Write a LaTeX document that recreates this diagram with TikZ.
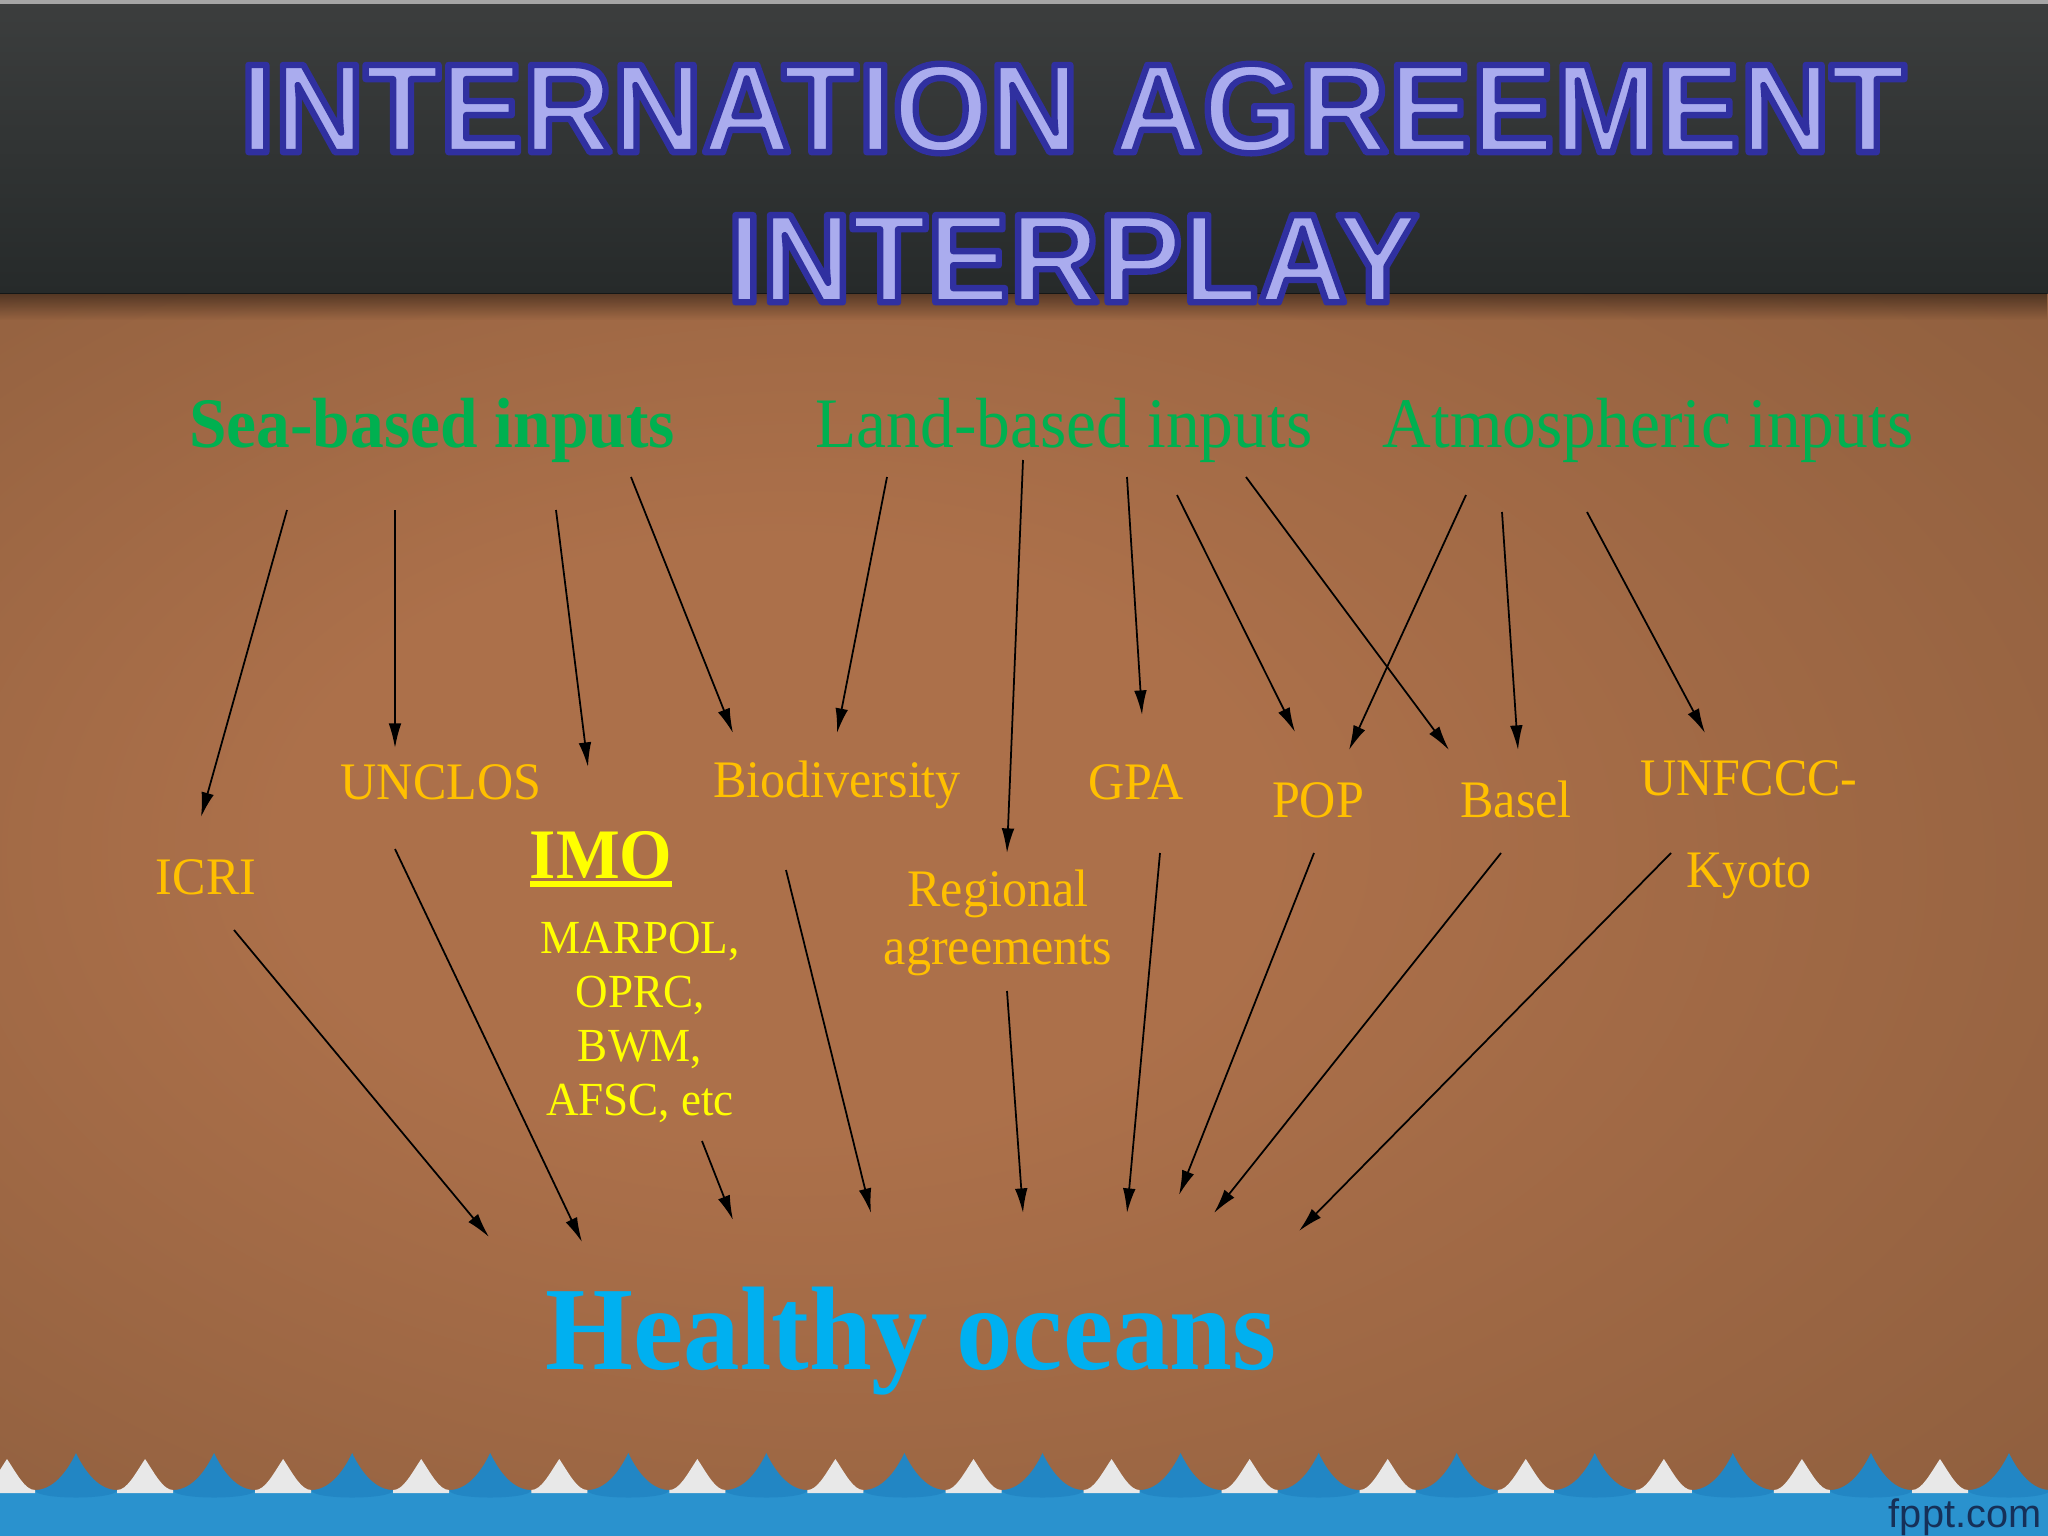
\documentclass[tikz,border=0pt]{standalone}
\usepackage{fontspec}
\setmainfont{Liberation Serif}[FakeStretch=0.95]
\newfontfamily\titlefont{Liberation Sans}[FakeStretch=0.98]
\newfontfamily\markfont{Liberation Sans}
\usetikzlibrary{arrows.meta,fadings}

\definecolor{hdtop}{RGB}{60,62,62}
\definecolor{hdbot}{RGB}{38,42,42}
\definecolor{bgmid}{RGB}{172,112,74}
\definecolor{bgedge}{RGB}{128,86,56}
\definecolor{titlefill}{RGB}{170,172,238}
\definecolor{headgreen}{HTML}{00B050}
\definecolor{treatygold}{HTML}{FFC000}
\definecolor{imoyellow}{HTML}{FFFF00}
\definecolor{oceanblue}{HTML}{00B0F0}
\definecolor{wavelight}{RGB}{42,146,206}
\definecolor{wavedark}{RGB}{34,134,196}
\definecolor{wavewhite}{RGB}{232,232,232}
\definecolor{fpptnavy}{RGB}{22,48,88}

\pgfdeclareradialshading{bgglow}{\pgfpoint{-8bp}{4bp}}{color(0bp)=(bgmid); color(12bp)=(bgmid); color(50bp)=(bgedge)}
% filled letters with a dark blue stroke round them
\newcommand{\outlined}[1]{\special{pdf:literal direct 2 Tr 1.8 w 1 j 0.188 0.188 0.627 RG}#1\special{pdf:literal direct 0 Tr 0.4 w 0 j}}
\newcommand{\imoline}[1]{\setbox0\hbox{#1}\rlap{\rule[-2.6pt]{\wd0}{1.7pt}}\box0}

\begin{document}
\begin{tikzpicture}[x=0.01cm,y=-0.01cm,>=Latex]
  \tikzset{
    titletext/.style={font=\titlefont\bfseries\fontsize{36}{42.7}\selectfont,text=titlefill,align=center,inner sep=0},
    head/.style={font=\fontsize{20.2}{24}\selectfont,text=headgreen,anchor=base,inner sep=0},
    treaty/.style={font=\fontsize{15}{16.5}\selectfont,text=treatygold,align=center,inner sep=0},
    imolist/.style={font=\fontsize{13.5}{15.4}\selectfont,text=imoyellow,align=center,inner sep=0},
    arr/.style={-{Latex[length=7pt,width=3.6pt]},line width=0.5pt,black}
  }
  \useasboundingbox (0,0) rectangle (2048,1536);

  % background
  \shade[shading=bgglow] (0,293) rectangle (2048,1536);
  \shade[top color=hdtop,bottom color=hdbot] (0,0) rectangle (2048,293);
  \fill[gray!70] (0,0) rectangle (2048,4);
  \fill[black,fill opacity=0.45,path fading=south] (0,293) rectangle (2048,320);

  % waves
  \fill[wavelight] (0,1491) rectangle (2048,1536);
  \foreach \k in {0,...,14}
    \fill[wavedark,shift={({76+138.07*\k},0)}] (-41,1490) .. controls (-24,1490) and (-10,1474) .. (0,1453)
      .. controls (10,1474) and (24,1490) .. (41,1490) .. controls (41,1500) and (-41,1500) .. cycle;
  \foreach \k in {0,...,15}
    \fill[wavewhite,shift={({7+138.07*\k},0)}] (-28,1490) .. controls (-18,1490) and (-10,1474) .. (0,1459)
      .. controls (10,1474) and (18,1490) .. (28,1490) -- (28,1493) -- (-28,1493) -- cycle;
  \node[font=\markfont\fontsize{11.3}{13}\selectfont,text=fpptnavy,anchor=base east,inner sep=0] (fppt) at (2042,1527) {fppt.com};

  % title
  \node[titletext,anchor=north] (title) at (1073,63) {\outlined{INTERNATION AGREEMENT}\\\outlined{INTERPLAY}};

  % input sources
  \node[head] (sea) at (432,447) {\bfseries Sea-based inputs};
  \node[head] (land) at (1064,447) {Land-based inputs};
  \node[head] (atm) at (1648,447) {Atmospheric inputs};

  % agreements
  \node[treaty,anchor=base] (icri) at (206,894) {ICRI};
  \node[treaty,anchor=base] (unclos) at (441,799) {UNCLOS};
  \node[head,text=imoyellow] (imo) at (601,878) {\bfseries\imoline{IMO}};
  \node[imolist,anchor=north] (marpol) at (640,921) {MARPOL,\\OPRC,\\BWM,\\AFSC, etc};
  \node[treaty,anchor=base] (bio) at (837,797) {Biodiversity};
  \node[treaty,anchor=north] (regional) at (998,869) {Regional\\agreements};
  \node[treaty,anchor=base] (gpa) at (1136,799) {GPA};
  \node[treaty,anchor=base] (pop) at (1318,817) {POP};
  \node[treaty,anchor=base] (basel) at (1516,817) {Basel};
  \node[treaty,anchor=north] (unfccc) at (1749,760) {UNFCCC-\\[9.7pt]Kyoto};

  % goal
  \node[font=\bfseries\fontsize{33.8}{40}\selectfont,text=oceanblue,anchor=base,inner sep=0] (healthy) at (911,1369) {Healthy oceans};

  % sea-based arrows
  \draw[arr] ([shift={(-145,63)}]sea.base) -- ([shift={(-5,-77)}]icri.base);
  \draw[arr] ([shift={(-37,63)}]sea.base) -- ([shift={(-46,-51)}]unclos.base);
  \draw[arr] ([shift={(124,63)}]sea.base) -- ([shift={(-13,-111)}]imo.base);
  \draw[arr] ([shift={(199,30)}]sea.base) -- ([shift={(-104,-64)}]bio.base);

  % land-based arrows
  \draw[arr] ([shift={(-177,30)}]land.base) -- ([shift={(0,-64)}]bio.base);
  \draw[arr] ([shift={(-41,13)}]land.base) -- ([shift={(9,-16)}]regional.north);
  \draw[arr] ([shift={(63,30)}]land.base) -- ([shift={(6,-84)}]gpa.base);
  \draw[arr] ([shift={(113,48)}]land.base) -- ([shift={(-23,-85)}]pop.base);
  \draw[arr] ([shift={(182,30)}]land.base) -- ([shift={(-67,-67)}]basel.base);

  % atmospheric arrows
  \draw[arr] ([shift={(-182,48)}]atm.base) -- ([shift={(31,-67)}]pop.base);
  \draw[arr] ([shift={(-146,65)}]atm.base) -- ([shift={(2,-67)}]basel.base);
  \draw[arr] ([shift={(-61,65)}]atm.base) -- ([shift={(-44,-27)}]unfccc.north);

  % into healthy oceans
  \draw[arr] ([shift={(28,36)}]icri.base) -- ([shift={(-422,-132)}]healthy.base);
  \draw[arr] ([shift={(-46,50)}]unclos.base) -- ([shift={(-329,-127)}]healthy.base);
  \draw[arr] ([shift={(62,220)}]marpol.north) -- ([shift={(-178,-149)}]healthy.base);
  \draw[arr] ([shift={(-51,73)}]bio.base) -- ([shift={(-40,-156)}]healthy.base);
  \draw[arr] ([shift={(9,122)}]regional.north) -- ([shift={(112,-156)}]healthy.base);
  \draw[arr] ([shift={(24,54)}]gpa.base) -- ([shift={(216,-156)}]healthy.base);
  \draw[arr] ([shift={(-4,36)}]pop.base) -- ([shift={(268,-174)}]healthy.base);
  \draw[arr] ([shift={(-15,36)}]basel.base) -- ([shift={(303,-156)}]healthy.base);
  \draw[arr] ([shift={(-78,93)}]unfccc.north) -- ([shift={(388,-138)}]healthy.base);

\end{tikzpicture}
\end{document}
